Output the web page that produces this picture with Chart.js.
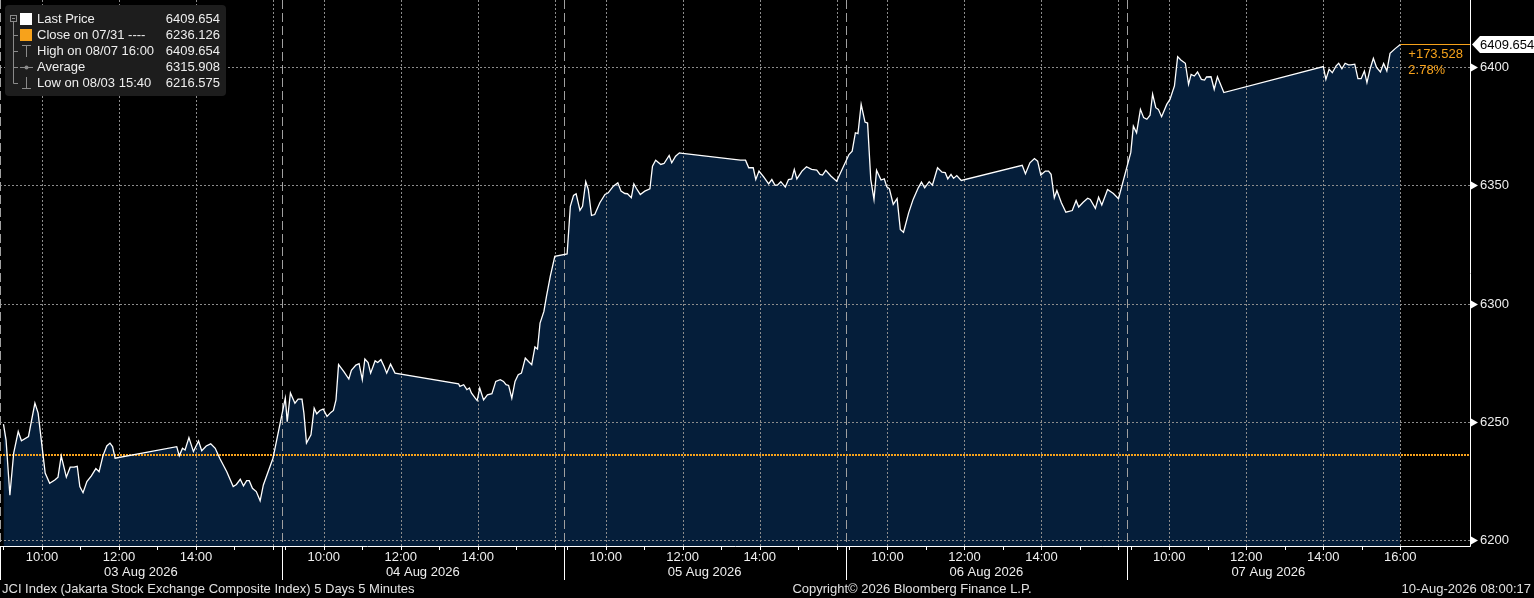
<!DOCTYPE html>
<html>
<head>
<meta charset="utf-8">
<script src="https://cdn.jsdelivr.net/npm/chart.js@4.4.1/dist/chart.umd.min.js"></script>
<style>
  html, body { margin: 0; padding: 0; background: #000; overflow: hidden; }
  canvas { display: block; }
</style>
</head>
<body>
<canvas id="chart" width="1534" height="598"></canvas>
<script>
// JCI Index, 5 days of 5 minute bars
const dayLabels = ['03 Aug 2026', '04 Aug 2026', '05 Aug 2026', '06 Aug 2026', '07 Aug 2026']
const hourLabels = ['10:00', '12:00', '14:00', '16:00']
const yTicks = [6200, 6250, 6300, 6350, 6400]
const closePrice = 6236.126

const day1Times = ['09:00','09:04','09:10','09:16','09:23','09:28','09:39','09:49','09:54','10:05','10:12','10:20','10:25','10:30','10:38','10:44','10:50','10:55','10:59','11:04','11:10','11:17','11:24','11:29','11:35','11:41','11:46','11:50','11:54','13:30','13:34','13:39','13:43','13:49','13:56','14:04','14:09','14:16','14:23','14:30','14:37','14:48','14:58','15:03','15:09','15:14','15:19','15:23','15:28','15:34','15:40','15:45','16:00']
const day1Values = [6249.0,6242.4,6219.0,6236.9,6245.9,6242.0,6243.8,6257.9,6253.7,6228.3,6224.0,6225.4,6226.6,6235.6,6226.6,6230.8,6230.8,6231.2,6222.6,6220.0,6224.7,6227.1,6230.2,6228.9,6235.6,6239.8,6241.0,6239.5,6234.6,6239.5,6235.6,6238.8,6238.1,6243.3,6237.4,6241.9,6237.8,6239.8,6240.7,6238.8,6234.6,6228.9,6222.6,6223.5,6225.7,6222.9,6225.1,6225.1,6221.9,6220.5,6216.575,6223.3,6234.6]

const day2Times = ['09:00','09:03','09:08','09:15','09:20','09:26','09:29','09:33','09:40','09:45','09:49','09:54','09:59','10:05','10:11','10:15','10:19','10:23','10:31','10:39','10:43','10:50','10:55','11:00','11:04','11:09','11:13','11:20','11:24','11:29','11:34','11:38','11:44','11:51','13:30','13:32','13:38','13:43','13:47','13:50','13:56','13:59','14:03','14:09','14:15','14:22','14:28','14:35','14:40','14:44','14:48','14:53','14:58','15:03','15:08','15:14','15:19','15:24','15:29','15:33','15:37','15:43','15:47','15:53','16:00']
const day2Values = [6260.0,6250.1,6262.2,6257.9,6259.6,6259.6,6253.7,6241.0,6244.5,6255.8,6253.4,6254.8,6255.4,6252.3,6254.0,6254.8,6259.3,6274.2,6271.3,6268.1,6271.8,6274.0,6274.6,6267.8,6276.6,6275.1,6270.6,6275.8,6275.1,6276.3,6273.4,6270.6,6274.4,6270.6,6266.1,6265.0,6265.7,6263.6,6264.3,6262.2,6260.0,6259.0,6264.3,6259.3,6261.4,6261.9,6267.1,6267.8,6267.1,6265.7,6265.4,6260.0,6267.1,6269.9,6270.6,6277.0,6275.5,6274.2,6281.7,6280.8,6291.8,6296.7,6303.1,6311.6,6320.0]

const day3Times = ['09:00','09:05','09:10','09:14','09:20','09:24','09:29','09:33','09:38','09:43','09:51','09:59','10:04','10:12','10:19','10:24','10:30','10:34','10:40','10:44','10:48','10:54','11:01','11:09','11:13','11:18','11:26','11:31','11:39','11:43','11:49','11:55','12:00','13:30','13:38','13:43','13:50','13:54','13:59','14:06','14:14','14:19','14:24','14:28','14:33','14:40','14:45','14:50','14:54','14:58','15:06','15:13','15:21','15:29','15:34','15:38','15:43','15:51','16:00']
const day3Values = [6321.0,6341.2,6345.8,6346.5,6339.5,6341.2,6351.6,6348.3,6337.3,6337.7,6342.7,6346.2,6346.9,6349.7,6351.1,6347.6,6346.6,6346.5,6344.8,6350.7,6348.7,6346.2,6347.6,6348.6,6358.2,6360.7,6358.9,6359.3,6362.7,6359.6,6362.4,6363.8,6363.6,6360.7,6360.7,6357.5,6357.5,6352.5,6356.1,6353.7,6350.7,6352.5,6350.1,6350.2,6351.6,6349.3,6352.5,6352.8,6356.8,6352.8,6356.1,6357.9,6356.8,6356.5,6354.7,6354.4,6356.4,6354.0,6351.8]

const day4Times = ['09:00','09:05','09:10','09:14','09:19','09:25','09:29','09:34','09:39','09:43','09:50','09:55','09:59','10:03','10:09','10:15','10:20','10:25','10:33','10:40','10:48','10:53','10:58','11:05','11:10','11:18','11:25','11:30','11:34','11:39','11:43','11:48','11:55','13:30','13:35','13:42','13:49','13:54','13:59','14:06','14:11','14:15','14:20','14:24','14:31','14:38','14:48','14:54','14:58','15:05','15:12','15:16','15:24','15:29','15:34','15:43','15:52','16:00']
const day4Values = [6363.1,6364.5,6372.3,6371.9,6384.3,6376.8,6376.4,6352.5,6344.1,6356.4,6352.3,6352.8,6349.4,6348.6,6342.0,6344.4,6331.4,6330.2,6338.4,6344.1,6349.0,6351.4,6349.0,6351.6,6350.1,6357.5,6355.6,6355.4,6352.8,6354.7,6353.0,6354.2,6352.1,6358.5,6355.0,6359.6,6361.4,6360.3,6354.4,6356.1,6356.1,6354.7,6344.8,6347.9,6342.7,6338.7,6339.4,6343.6,6340.9,6342.9,6344.6,6344.1,6340.3,6345.0,6341.7,6348.3,6346.6,6344.4]

const day5Times = ['09:00','09:04','09:09','09:15','09:20','09:25','09:30','09:34','09:39','09:43','09:48','09:56','10:01','10:08','10:13','10:18','10:25','10:30','10:34','10:39','10:44','10:50','10:55','10:58','11:05','11:10','11:15','11:25','14:00','14:04','14:09','14:14','14:20','14:24','14:29','14:34','14:39','14:43','14:49','14:54','14:59','15:04','15:08','15:13','15:18','15:23','15:29','15:34','15:39','15:44','15:52','16:00']
const day5Values = [6364.0,6375.1,6372.3,6382.2,6378.7,6378.0,6379.7,6388.6,6382.9,6382.2,6379.1,6384.3,6386.4,6392.1,6404.5,6403.1,6401.7,6392.8,6397.0,6396.3,6398.0,6394.9,6394.6,6395.9,6396.0,6390.7,6396.0,6389.3,6400.3,6394.9,6399.2,6397.7,6400.6,6401.7,6399.4,6401.7,6401.0,6401.0,6401.3,6395.2,6395.2,6398.4,6393.5,6399.4,6403.8,6399.9,6398.0,6401.6,6398.4,6405.9,6407.9,6409.654]

const legendNames = ['Last Price', 'Close on 07/31 ----', 'High on 08/07 16:00', 'Average', 'Low on 08/03 15:40']
const legendValues = ['6409.654', '6236.126', '6409.654', '6315.908', '6216.575']

const dayTimes = [day1Times, day2Times, day3Times, day4Times, day5Times]
const dayValues = [day1Values, day2Values, day3Values, day4Values, day5Values]

// each trading day gets its own slot on the axis, overnight is cut out
const DAY_LEN = 7.32
const OPEN_OFF = 0.09
const X_MAX = 38.18

function toX(day, hours) {
  return day * DAY_LEN + OPEN_OFF + (hours - 9)
}
function parseTime(t) {
  const [h, m] = t.split(':').map(Number)
  return h + m / 60
}

const points = []
dayTimes.forEach((times, d) => {
  times.forEach((t, i) => {
    points.push({ x: toX(d, parseTime(t)), y: dayValues[d][i] })
  })
})
const lastPrice = day5Values[day5Values.length - 1]

const FONT = "13px 'Liberation Sans', Arial, sans-serif"
const GRID = '#8c8c8c'
const ORANGE = '#f7a21b'
const TEXT = '#eeeeee'

function dotted(ctx, x1, y1, x2, y2, dash, color, width) {
  ctx.save()
  ctx.strokeStyle = color
  ctx.lineWidth = width || 1
  ctx.setLineDash(dash)
  ctx.beginPath()
  ctx.moveTo(x1, y1)
  ctx.lineTo(x2, y2)
  ctx.stroke()
  ctx.restore()
}

const bbgPlugin = {
  id: 'bbg',
  beforeDraw(chart) {
    const ctx = chart.ctx
    ctx.save()
    ctx.fillStyle = '#000'
    ctx.fillRect(0, 0, chart.width, chart.height)
    ctx.restore()
  },
  afterDatasetDraw(chart, args) {
    // grid goes over the filled area but under the price line
    if (args.index !== 1) return
    const ctx = chart.ctx
    const xs = chart.scales.x
    const ys = chart.scales.y
    const area = chart.chartArea
    yTicks.forEach((v) => {
      const y = Math.round(ys.getPixelForValue(v)) + 0.5
      dotted(ctx, area.left, y, area.right, y, [2, 2], GRID)
    })
    for (let d = 0; d < dayLabels.length; d++) {
      ;[10, 12, 14, 16].forEach((h) => {
        const x = Math.round(xs.getPixelForValue(toX(d, h))) + 0.5
        dotted(ctx, x, area.top, x, area.bottom, [2, 2], GRID)
      })
      const sx = Math.round(xs.getPixelForValue(d * DAY_LEN)) + 0.5
      dotted(ctx, sx, area.top, sx, area.bottom, [9, 4], '#a0a0a0')
    }
    const cy = Math.round(ys.getPixelForValue(closePrice))
    dotted(ctx, area.left, cy, area.right, cy, [2, 1], ORANGE, 2)
  },
  afterDraw(chart) {
    const ctx = chart.ctx
    const xs = chart.scales.x
    const ys = chart.scales.y
    const area = chart.chartArea
    ctx.save()

    // axis lines
    ctx.strokeStyle = '#ffffff'
    ctx.lineWidth = 1
    ctx.beginPath()
    ctx.moveTo(area.left, area.bottom + 0.5)
    ctx.lineTo(area.right + 0.5, area.bottom + 0.5)
    ctx.moveTo(area.right + 0.5, area.top)
    ctx.lineTo(area.right + 0.5, area.bottom + 0.5)
    ctx.stroke()

    // time axis: hour ticks, labels, day dividers
    ctx.font = FONT
    ctx.fillStyle = TEXT
    ctx.textAlign = 'center'
    ctx.textBaseline = 'alphabetic'
    for (let d = 0; d < dayLabels.length; d++) {
      ctx.beginPath()
      for (let h = 9; h <= 16; h++) {
        const x = Math.round(xs.getPixelForValue(toX(d, h))) + 0.5
        ctx.moveTo(x, area.bottom)
        ctx.lineTo(x, area.bottom + 4)
      }
      const sx = Math.round(xs.getPixelForValue(d * DAY_LEN)) + 0.5
      ctx.moveTo(sx, area.bottom)
      ctx.lineTo(sx, area.bottom + 34)
      ctx.stroke()
      hourLabels.forEach((lab) => {
        // 16:00 only fits after the last session
        if (lab === '16:00' && d !== dayLabels.length - 1) return
        ctx.fillText(lab, xs.getPixelForValue(toX(d, parseTime(lab))), area.bottom + 15)
      })
      ctx.fillText(dayLabels[d], xs.getPixelForValue((d + 0.5) * DAY_LEN), area.bottom + 30)
    }

    // price axis on the right
    ctx.textAlign = 'left'
    ctx.textBaseline = 'middle'
    yTicks.forEach((v) => {
      const y = Math.round(ys.getPixelForValue(v)) + 0.5
      ctx.fillStyle = '#ffffff'
      ctx.beginPath()
      ctx.moveTo(area.right + 1, y - 4)
      ctx.lineTo(area.right + 8, y)
      ctx.lineTo(area.right + 1, y + 4)
      ctx.closePath()
      ctx.fill()
      ctx.fillStyle = TEXT
      ctx.fillText(String(v), area.right + 10, y)
    })

    // last price marker
    const lx = xs.getPixelForValue(points[points.length - 1].x)
    const ly = Math.round(ys.getPixelForValue(lastPrice)) + 0.5
    ctx.strokeStyle = ORANGE
    ctx.beginPath()
    ctx.moveTo(lx, ly)
    ctx.lineTo(area.right, ly)
    ctx.stroke()
    ctx.fillStyle = '#ffffff'
    ctx.beginPath()
    ctx.moveTo(area.right + 2, ly)
    ctx.lineTo(area.right + 10, ly - 8.5)
    ctx.lineTo(chart.width, ly - 8.5)
    ctx.lineTo(chart.width, ly + 8.5)
    ctx.lineTo(area.right + 10, ly + 8.5)
    ctx.closePath()
    ctx.fill()
    ctx.fillStyle = '#000000'
    ctx.fillText(lastPrice.toFixed(3), area.right + 10, ly + 0.5)

    const chg = lastPrice - closePrice
    ctx.fillStyle = ORANGE
    ctx.textBaseline = 'alphabetic'
    ctx.fillText('+' + chg.toFixed(3), lx + 8, ly + 13)
    ctx.fillText((chg / closePrice * 100).toFixed(2) + '%', lx + 8, ly + 29)

    // legend box
    ctx.fillStyle = '#1d1d1d'
    ctx.beginPath()
    ctx.roundRect(5, 5, 221, 91, 4)
    ctx.fill()
    const rowY = [19, 35, 51, 67, 83]
    ctx.strokeStyle = '#8a8a8a'
    ctx.lineWidth = 1
    ctx.strokeRect(10.5, 15.5, 6, 6)
    ctx.beginPath()
    ctx.moveTo(12, 18.5); ctx.lineTo(15, 18.5)
    ctx.moveTo(13.5, 22); ctx.lineTo(13.5, 83.5)
    for (let i = 1; i < rowY.length; i++) {
      ctx.moveTo(13.5, rowY[i] + 0.5); ctx.lineTo(18, rowY[i] + 0.5)
    }
    // high / average / low glyphs
    ctx.moveTo(22, 45.5); ctx.lineTo(31, 45.5)
    ctx.moveTo(26.5, 45.5); ctx.lineTo(26.5, 57)
    ctx.moveTo(20, 67.5); ctx.lineTo(33, 67.5)
    ctx.moveTo(26.5, 77); ctx.lineTo(26.5, 88.5)
    ctx.moveTo(22, 88.5); ctx.lineTo(31, 88.5)
    ctx.stroke()
    ctx.fillStyle = '#8a8a8a'
    ctx.beginPath()
    ctx.arc(26.5, 67.5, 2, 0, Math.PI * 2)
    ctx.fill()
    ctx.fillStyle = '#ffffff'
    ctx.fillRect(20, 13, 12, 12)
    ctx.fillStyle = ORANGE
    ctx.fillRect(20, 29, 12, 12)

    ctx.font = FONT
    ctx.textBaseline = 'middle'
    legendNames.forEach((name, i) => {
      ctx.fillStyle = TEXT
      ctx.textAlign = 'left'
      ctx.fillText(name, 37, rowY[i] + 0.5)
      ctx.textAlign = 'right'
      ctx.fillText(legendValues[i], 220, rowY[i] + 0.5)
    })

    // footer
    ctx.fillStyle = '#e0e0e0'
    ctx.textBaseline = 'alphabetic'
    ctx.textAlign = 'left'
    ctx.fillText('JCI Index (Jakarta Stock Exchange Composite Index) 5 Days 5 Minutes', 2, 593)
    ctx.textAlign = 'center'
    ctx.fillText('Copyright\u00a9 2026 Bloomberg Finance L.P.', 912, 593)
    ctx.textAlign = 'right'
    ctx.fillText('10-Aug-2026 08:00:17', 1531, 593)
    ctx.restore()
  },
}

const chart = new Chart(document.getElementById('chart'), {
  type: 'line',
  data: {
    datasets: [
      {
        label: 'Last Price',
        data: points,
        borderColor: '#ffffff',
        borderWidth: 1.3,
        pointRadius: 0,
        fill: false,
        tension: 0,
      },
      {
        label: 'area',
        data: points,
        borderColor: 'rgba(0,0,0,0)',
        borderWidth: 0,
        backgroundColor: '#051e3a',
        pointRadius: 0,
        fill: 'start',
        tension: 0,
      },
    ],
  },
  options: {
    responsive: false,
    animation: false,
    devicePixelRatio: 1,
    layout: {
      padding: { left: 0, top: 0, right: 64, bottom: 52 },
    },
    plugins: {
      legend: { display: false },
      tooltip: { enabled: false },
    },
    scales: {
      x: { type: 'linear', min: 0, max: X_MAX, display: false },
      y: { min: 6197.46, max: 6428.47, display: false },
    },
  },
  plugins: [bbgPlugin],
})
</script>
</body>
</html>
